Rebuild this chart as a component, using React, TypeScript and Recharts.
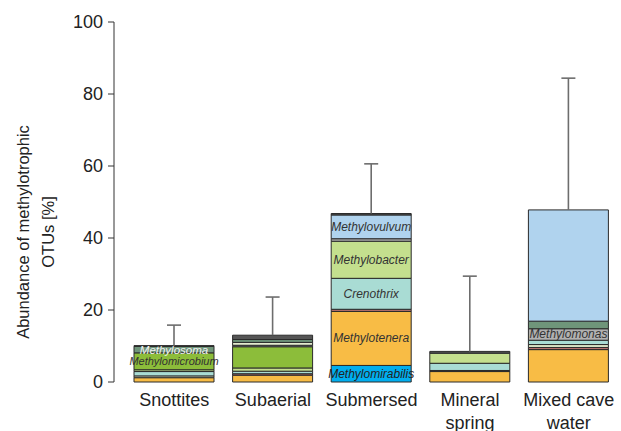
import { Bar, BarChart, LabelList, XAxis, YAxis } from "recharts"

const categories = ["Snottites", "Subaerial", "Submersed", "Mineral\nspring", "Mixed cave\nwater"]

// stacked layers, bottom to top (% of OTUs)
const methylomirabilis = [0, 0, 4.6, 0, 0]
const methylotenera = [1.2, 1.9, 15.0, 2.9, 9.0]
const otherRed = [0, 0.4, 0.6, 0.3, 0.6]
const otherCream = [0.5, 0, 0, 0, 0.8]
const crenothrix = [1.2, 0.7, 8.6, 2.0, 1.2]
const methylobacter = [0.5, 0.9, 10.3, 2.8, 0]
const methylomicrobium = [4.7, 5.9, 0, 0, 0]
const methylomonas = [0, 0.4, 0.7, 0, 3.2]
const otherPale = [0, 0.8, 0, 0, 0]
const methylosoma = [1.8, 0.8, 0, 0, 2.1]
const methylovulvum = [0, 0, 6.6, 0, 30.9]
const otherDark = [0.2, 1.2, 0.4, 0.5, 0]
const errorTop = [15.8, 23.6, 60.6, 29.4, 84.4]

const yTicks = [0, 20, 40, 60, 80, 100]

const series = [
  { key: "methylomirabilis", name: "Methylomirabilis", values: methylomirabilis, color: "#00aeef", labelAt: ["Submersed"], labelColor: "#222", labelSize: 12 },
  { key: "methylotenera", name: "Methylotenera", values: methylotenera, color: "#f8bc45", labelAt: ["Submersed"], labelColor: "#333", labelSize: 12 },
  { key: "otherRed", name: "", values: otherRed, color: "#b5706c", labelAt: [], labelColor: "#333", labelSize: 12 },
  { key: "otherCream", name: "", values: otherCream, color: "#e2ebcb", labelAt: [], labelColor: "#333", labelSize: 12 },
  { key: "crenothrix", name: "Crenothrix", values: crenothrix, color: "#a9dcd4", labelAt: ["Submersed"], labelColor: "#333", labelSize: 12 },
  { key: "methylobacter", name: "Methylobacter", values: methylobacter, color: "#c4df8e", labelAt: ["Submersed"], labelColor: "#333", labelSize: 12 },
  { key: "methylomicrobium", name: "Methylomicrobium", values: methylomicrobium, color: "#8cbd3a", labelAt: ["Snottites"], labelColor: "#333", labelSize: 11 },
  { key: "methylomonas", name: "Methylomonas", values: methylomonas, color: "#b1b1b1", labelAt: ["Mixed cave\nwater"], labelColor: "#333", labelSize: 12 },
  { key: "otherPale", name: "", values: otherPale, color: "#e3ecce", labelAt: [], labelColor: "#333", labelSize: 12 },
  { key: "methylosoma", name: "Methylosoma", values: methylosoma, color: "#6f957a", labelAt: ["Snottites"], labelColor: "#f2f2f2", labelSize: 11.5 },
  { key: "methylovulvum", name: "Methylovulvum", values: methylovulvum, color: "#b0d3ee", labelAt: ["Submersed"], labelColor: "#333", labelSize: 12 },
  { key: "otherDark", name: "", values: otherDark, color: "#555555", labelAt: [], labelColor: "#333", labelSize: 12 },
]

const data = categories.map((name, i) => {
  const row: Record<string, number | string> = { name }
  let total = 0
  series.forEach((s) => {
    row[s.key] = s.values[i]
    total += s.values[i]
  })
  row.whisker = errorTop[i] - total
  return row
})

const font = "'Liberation Sans', Arial, sans-serif"

const makeLabel = (s: (typeof series)[number]) => (props: any) => {
  const { x, y, width, height, value } = props
  if (!s.labelAt.includes(value)) return null
  return (
    <text
      x={Number(x) + Number(width) / 2}
      y={Number(y) + Number(height) / 2}
      textAnchor="middle"
      dominantBaseline="central"
      fontStyle="italic"
      fontSize={s.labelSize}
      fontFamily={font}
      fill={s.labelColor}
    >
      {s.name}
    </text>
  )
}

const Whisker = (props: any) => {
  const { x, y, width, height } = props
  const cx = x + width / 2
  return (
    <g>
      <line x1={cx} y1={y} x2={cx} y2={y + height} stroke="#6d6d6d" strokeWidth={1.6} />
      <line x1={cx - 7} y1={y} x2={cx + 7} y2={y} stroke="#6d6d6d" strokeWidth={1.6} />
    </g>
  )
}

const CategoryTick = (props: any) => {
  const { x, y, payload } = props
  const lines = String(payload.value).split("\n")
  return (
    <text x={x} y={y} textAnchor="middle" fontSize={18} fontFamily={font} fill="#222">
      {lines.map((l, i) => (
        <tspan key={i} x={x} dy={i === 0 ? 24 : 23}>
          {l}
        </tspan>
      ))}
    </text>
  )
}

const AxisTitle = (props: any) => {
  const vb = props.viewBox || { x: 0 }
  const cx = vb.x + 29
  const cy = 232
  return (
    <text
      x={cx}
      y={cy}
      transform={`rotate(-90, ${cx}, ${cy})`}
      textAnchor="middle"
      fontSize={16.5}
      fontFamily={font}
      fill="#222"
    >
      <tspan x={cx} dy={0}>Abundance of methylotrophic</tspan>
      <tspan x={cx} dy={25}>OTUs [%]</tspan>
    </text>
  )
}

export default function App() {
  return (
    <div style={{ position: "absolute", left: 0, top: 0, background: "#fff" }}>
      <BarChart
        width={621}
        height={431}
        data={data}
        margin={{ top: 22, right: 3, left: 0, bottom: 0 }}
        barSize={80}
      >
        <XAxis
          dataKey="name"
          height={49}
          axisLine={false}
          tickLine={false}
          tickSize={0}
          tickMargin={0}
          interval={0}
          padding={{ left: 11, right: 0 }}
          tick={<CategoryTick />}
        />
        <YAxis
          width={114}
          domain={[0, 100]}
          ticks={yTicks}
          interval={0}
          tickSize={6}
          tickMargin={5}
          stroke="#333"
          tick={{ fontSize: 18, fontFamily: font, fill: "#222" }}
          label={{ content: <AxisTitle /> }}
        />
        {series.map((s) => (
          <Bar
            key={s.key}
            dataKey={s.key}
            stackId="a"
            fill={s.color}
            stroke="#2a2a2a"
            strokeWidth={1}
            isAnimationActive={false}
          >
            {s.labelAt.length > 0 && <LabelList dataKey="name" content={makeLabel(s)} />}
          </Bar>
        ))}
        <Bar dataKey="whisker" stackId="a" fill="none" shape={<Whisker />} isAnimationActive={false} />
      </BarChart>
    </div>
  )
}
